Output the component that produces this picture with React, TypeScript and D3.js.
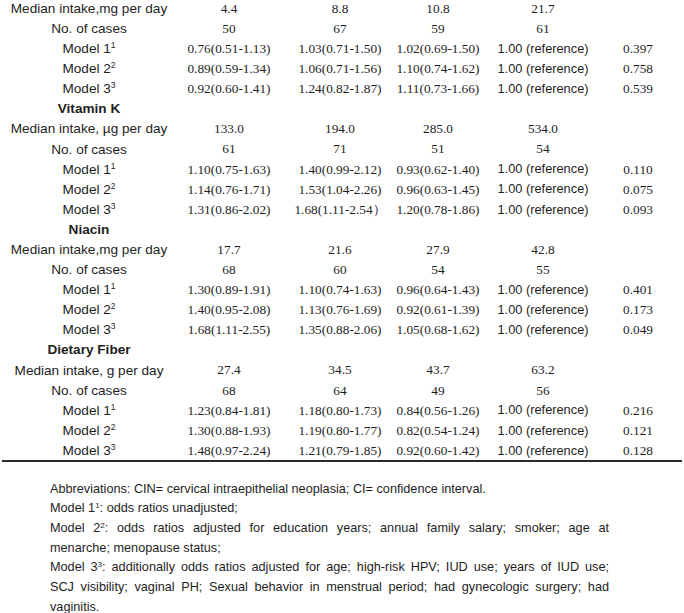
import React, { useEffect, useRef } from "react"
import * as d3 from "d3"

// table content
const headers = ["", "Vitamin K", "Niacin", "Dietary Fiber"]
const medianLabels = [
  "Median intake,mg per day",
  "Median intake, µg per day",
  "Median intake,mg per day",
  "Median intake, g per day",
]
const medians = [
  ["4.4", "8.8", "10.8", "21.7"],
  ["133.0", "194.0", "285.0", "534.0"],
  ["17.7", "21.6", "27.9", "42.8"],
  ["27.4", "34.5", "43.7", "63.2"],
]
const cases = [
  [50, 67, 59, 61],
  [61, 71, 51, 54],
  [68, 60, 54, 55],
  [68, 64, 49, 56],
]
const model1 = [
  ["0.76(0.51-1.13)", "1.03(0.71-1.50)", "1.02(0.69-1.50)"],
  ["1.10(0.75-1.63)", "1.40(0.99-2.12)", "0.93(0.62-1.40)"],
  ["1.30(0.89-1.91)", "1.10(0.74-1.63)", "0.96(0.64-1.43)"],
  ["1.23(0.84-1.81)", "1.18(0.80-1.73)", "0.84(0.56-1.26)"],
]
const model2 = [
  ["0.89(0.59-1.34)", "1.06(0.71-1.56)", "1.10(0.74-1.62)"],
  ["1.14(0.76-1.71)", "1.53(1.04-2.26)", "0.96(0.63-1.45)"],
  ["1.40(0.95-2.08)", "1.13(0.76-1.69)", "0.92(0.61-1.39)"],
  ["1.30(0.88-1.93)", "1.19(0.80-1.77)", "0.82(0.54-1.24)"],
]
const model3 = [
  ["0.92(0.60-1.41)", "1.24(0.82-1.87)", "1.11(0.73-1.66)"],
  ["1.31(0.86-2.02)", "1.68(1.11-2.54）", "1.20(0.78-1.86)"],
  ["1.68(1.11-2.55)", "1.35(0.88-2.06)", "1.05(0.68-1.62)"],
  ["1.48(0.97-2.24)", "1.21(0.79-1.85)", "0.92(0.60-1.42)"],
]
const pTrend = [
  ["0.397", "0.758", "0.539"],
  ["0.110", "0.075", "0.093"],
  ["0.401", "0.173", "0.049"],
  ["0.216", "0.121", "0.128"],
]
const referenceText = "1.00 (reference)"
const columns = ["label", "q1", "q2", "q3", "q4", "p"]

// {n} marks a superscript; justify = stretch to full width
const footnotes = [
  { text: "Abbreviations: CIN= cervical intraepithelial neoplasia; CI= confidence interval.", justify: false },
  { text: "Model 1{1}: odds ratios unadjusted;", justify: false },
  { text: "Model 2{2}: odds ratios adjusted for education years; annual family salary; smoker; age at", justify: true },
  { text: "menarche; menopause status;", justify: false },
  { text: "Model 3{3}: additionally odds ratios adjusted for age; high-risk HPV; IUD use; years of IUD use;", justify: true },
  { text: "SCJ visibility; vaginal PH; Sexual behavior in menstrual period; had gynecologic surgery; had", justify: true },
  { text: "vaginitis.", justify: false },
]

const W = 684
const H = 613
const SANS = "'Liberation Sans', Arial, sans-serif"
const SERIF = "'Liberation Serif', 'Times New Roman', serif"
const INK = "#1e1e1e"

function addRich(sel, text, supSize) {
  const parts = text.split(/\{(\d)\}/)
  parts.forEach((p, i) => {
    if (!p) return
    if (i % 2 === 1) {
      sel.append("tspan").attr("font-size", supSize).attr("baseline-shift", "super").text(p)
    } else {
      sel.append("tspan").text(p)
    }
  })
}

function App() {
  const svgRef = useRef(null)

  useEffect(() => {
    const svg = d3.select(svgRef.current)
    svg.selectAll("*").remove()

    // build rows
    const rows = []
    headers.forEach((h, g) => {
      if (h) rows.push({ kind: "header", label: h })
      rows.push({ kind: "median", label: medianLabels[g], vals: medians[g] })
      rows.push({ kind: "cases", label: "No. of cases", vals: cases[g].map(String) })
      ;[model1, model2, model3].forEach((m, k) => {
        rows.push({
          kind: "model",
          label: `Model ${k + 1}{${k + 1}}`,
          vals: [...m[g], referenceText],
          p: pTrend[g][k],
        })
      })
    })

    const y = d3.scaleLinear().domain([0, rows.length - 1]).range([8, 450])
    const x = d3.scaleOrdinal().domain(columns).range([89, 229, 340, 438, 543, 638])

    const g = svg.append("g").attr("fill", INK)

    const row = g.selectAll("g.row").data(rows).enter().append("g")
      .attr("class", "row")
      .attr("transform", (d, i) => `translate(0,${y(i)})`)

    row.each(function (d) {
      const r = d3.select(this)
      const lab = r.append("text")
        .attr("x", x("label"))
        .attr("dy", "0.36em")
        .attr("text-anchor", "middle")
        .attr("font-family", SANS)
        .attr("font-size", 13.6)
        .attr("font-weight", d.kind === "header" ? "bold" : "normal")
      addRich(lab, d.label, 8.5)
      if (!d.vals) return
      d.vals.forEach((v, j) => {
        const isRef = v === referenceText
        r.append("text")
          .attr("x", x(columns[j + 1]))
          .attr("dy", "0.36em")
          .attr("text-anchor", "middle")
          .attr("font-family", isRef ? SANS : SERIF)
          .attr("font-size", isRef ? 12.8 : 13.3)
          .text(v)
      })
      if (d.p) {
        r.append("text")
          .attr("x", x("p"))
          .attr("dy", "0.36em")
          .attr("text-anchor", "middle")
          .attr("font-family", SERIF)
          .attr("font-size", 13.3)
          .text(d.p)
      }
    })

    // bottom rule
    svg.append("line")
      .attr("x1", 2).attr("x2", W - 2)
      .attr("y1", 461).attr("y2", 461)
      .attr("stroke", "#2a2a2a").attr("stroke-width", 2)

    // footnotes
    const fy = d3.scaleLinear().domain([0, footnotes.length - 1]).range([488, 606])
    const left = 50, right = 609
    const fn = svg.append("g").attr("fill", INK).attr("font-family", SANS).attr("font-size", 12.7)
    footnotes.forEach((f, i) => {
      if (!f.justify) {
        const t = fn.append("text").attr("x", left).attr("y", fy(i)).attr("dy", "0.36em")
        addRich(t, f.text, 8)
        return
      }
      const words = f.text.split(" ")
      const nodes = words.map((w) => {
        const t = fn.append("text").attr("y", fy(i)).attr("dy", "0.36em")
        addRich(t, w, 8)
        return t
      })
      const widths = nodes.map((t) => t.node().getComputedTextLength())
      const gap = (right - left - d3.sum(widths)) / (words.length - 1)
      let cx = left
      nodes.forEach((t, k) => {
        t.attr("x", cx)
        cx += widths[k] + gap
      })
    })
  }, [])

  return (
    <svg
      ref={svgRef}
      width={W}
      height={H}
      style={{ position: "absolute", left: 0, top: 0, background: "#fff" }}
    ></svg>
  )
}

export default App
